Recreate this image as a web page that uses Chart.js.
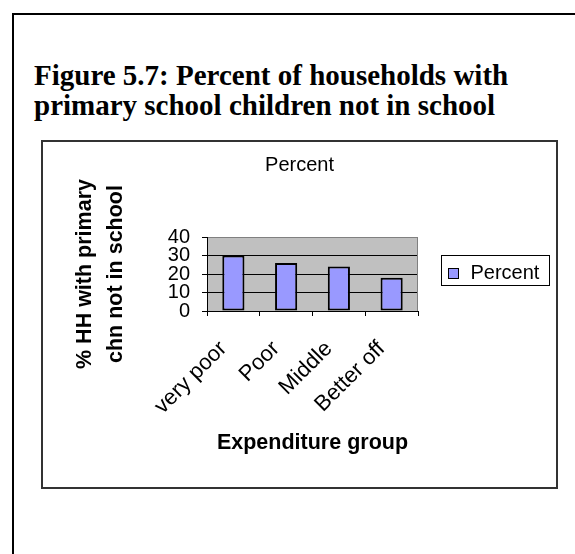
<!DOCTYPE html>
<html>
<head>
<meta charset="utf-8">
<script src="https://cdn.jsdelivr.net/npm/chart.js@4/dist/chart.umd.min.js"></script>
<style>
  html, body { margin: 0; padding: 0; width: 575px; height: 554px; overflow: hidden; background: #fff; }
  .frame { position: absolute; left: 12px; top: 13px; width: 700px; height: 700px;
           border-left: 2px solid #000; border-top: 2px solid #000; box-sizing: border-box; }
  .caption { position: absolute; left: 34px; top: 60px; width: 530px;
             font-family: "Liberation Serif", "Times New Roman", serif; font-weight: bold;
             font-size: 29px; line-height: 30px; color: #000; white-space: nowrap; }
  .box { position: absolute; left: 41px; top: 140px; width: 517px; height: 349px;
         border: 2px solid #333; box-sizing: border-box; background: #fff; }
  .box canvas { position: absolute; left: 0; top: 0; }
</style>
</head>
<body>
<div class="frame"></div>
<div class="caption">Figure 5.7: Percent of households with<br>primary school children not in school</div>
<div class="box"><canvas id="c" width="513" height="345"></canvas></div>
<script>
// Households with primary school children not in school, by expenditure group
const categories = ['very poor', 'Poor', 'Middle', 'Better off'];
const percentValues = [30, 26, 24, 18];
const seriesName = 'Percent';
const yTickValues = [0, 10, 20, 30, 40];

const FONT = '"Liberation Sans", Arial, sans-serif';

// Grey plot background and the grey right edge of the plot frame
const plotFrame = {
  id: 'plotFrame',
  beforeDraw(chart) {
    const { ctx, chartArea: a } = chart;
    ctx.save();
    ctx.fillStyle = '#c0c0c0';
    ctx.fillRect(a.left, a.top, a.right - a.left, a.bottom - a.top);
    ctx.restore();
  },
  afterDatasetsDraw(chart) {
    const { ctx, chartArea: a } = chart;
    ctx.save();
    ctx.strokeStyle = '#808080';
    ctx.lineWidth = 1;
    ctx.beginPath();
    ctx.moveTo(Math.round(a.right) - 0.5, a.top);
    ctx.lineTo(Math.round(a.right) - 0.5, a.bottom);
    ctx.stroke();
    ctx.restore();
  }
};

// Boxed legend to the right of the plot
const boxedLegend = {
  id: 'boxedLegend',
  afterDraw(chart) {
    const { ctx, chartArea: a } = chart;
    const ds = chart.data.datasets[0];
    const x = Math.round(a.right) + 23.5, y = Math.round(a.top) + 18.5;
    const w = 108, h = 30;
    ctx.save();
    ctx.strokeStyle = '#000';
    ctx.lineWidth = 1;
    ctx.strokeRect(x, y, w, h);
    ctx.fillStyle = ds.backgroundColor;
    ctx.fillRect(x + 7, y + 13, 10, 10);
    ctx.strokeRect(x + 7, y + 13, 10, 10);
    ctx.fillStyle = '#000';
    ctx.font = '20px ' + FONT;
    ctx.textBaseline = 'alphabetic';
    ctx.textAlign = 'left';
    ctx.fillText(ds.label, x + 29, y + 23);
    ctx.restore();
  }
};

new Chart(document.getElementById('c'), {
  type: 'bar',
  data: {
    labels: categories,
    datasets: [{
      label: seriesName,
      data: percentValues,
      backgroundColor: '#9999ff',
      borderColor: '#000',
      borderWidth: 2,
      borderSkipped: false,
      barPercentage: 0.42,
      categoryPercentage: 1
    }]
  },
  options: {
    responsive: false,
    animation: false,
    layout: { padding: 0 },
    plugins: {
      legend: { display: false },
      tooltip: { enabled: false },
      title: {
        display: true,
        text: seriesName,
        color: '#000',
        font: { family: FONT, size: 20, weight: 'normal', lineHeight: 1.2 },
        padding: { top: 11, bottom: 60 }
      }
    },
    scales: {
      x: {
        grid: { display: true, drawOnChartArea: false, drawTicks: true, tickLength: 5, color: '#000', offset: true },
        border: { display: true, color: '#000', width: 1 },
        ticks: {
          color: '#000', font: { family: FONT, size: 22 },
          minRotation: 45, maxRotation: 45, padding: 20, labelOffset: -10, autoSkip: false
        },
        title: {
          display: true, text: 'Expenditure group', color: '#000',
          font: { family: FONT, size: 21.5, weight: 'bold', lineHeight: 1.2 },
          padding: { top: 0, bottom: 31.5 }
        },
        afterFit(scale) { scale.height = 176; }
      },
      y: {
        min: yTickValues[0],
        max: yTickValues[yTickValues.length - 1],
        afterBuildTicks(scale) { scale.ticks = yTickValues.map(v => ({ value: v })); },
        grid: {
          color: ctx => (ctx.tick && ctx.tick.value === yTickValues[yTickValues.length - 1]) ? '#808080' : '#000',
          tickColor: '#000',
          tickLength: 5,
          lineWidth: 1
        },
        border: { display: true, color: '#000', width: 1 },
        ticks: { color: '#000', font: { family: FONT, size: 20 }, padding: 12, autoSkip: false },
        title: {
          display: true, text: ['% HH with primary', 'chn not in school'], color: '#000',
          font: { family: FONT, size: 21.5, weight: 'bold', lineHeight: 1.42 },
          padding: { top: 27, bottom: 0 }
        },
        afterFit(scale) { scale.width = 164; }
      },
      // empty column on the right that holds the legend box
      legendSpace: {
        type: 'linear',
        position: 'right',
        display: true,
        grid: { display: false },
        border: { display: false },
        ticks: { display: false },
        afterFit(scale) { scale.width = 138; }
      }
    }
  },
  plugins: [plotFrame, boxedLegend]
});
</script>
</body>
</html>
